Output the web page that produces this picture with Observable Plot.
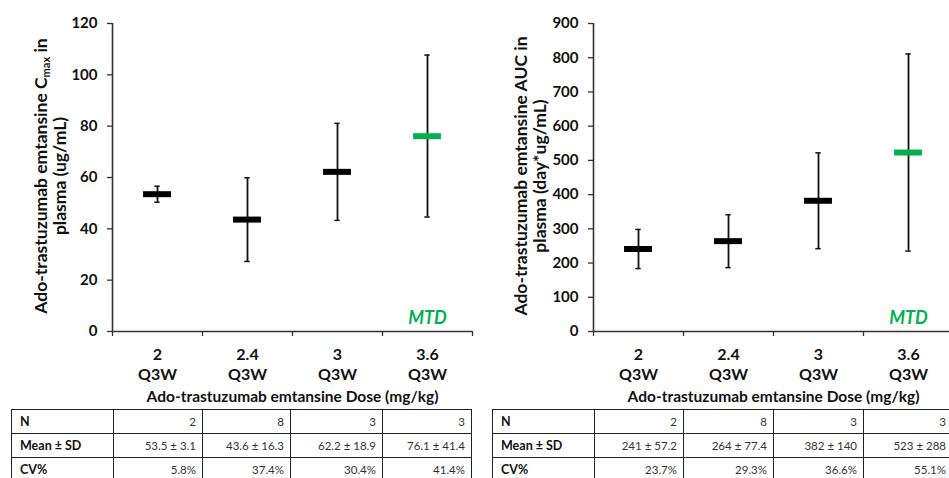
<!DOCTYPE html>
<html>
<head>
<meta charset="utf-8">
<script src="https://cdn.jsdelivr.net/npm/d3@7"></script>
<script src="https://cdn.jsdelivr.net/npm/@observablehq/plot@0.6"></script>
<style>
  html, body { margin: 0; padding: 0; background: #fff; }
  #wrap { position: relative; width: 949px; height: 478px; overflow: hidden; background: #fff; font-family: Lato, "Open Sans", sans-serif; }
  .pnl { position: absolute; top: 0; }
  table.stats { position: absolute; border-collapse: collapse; table-layout: fixed; font-family: Lato, sans-serif; }
  table.stats td { border: 1.5px solid #222; height: 23px; padding: 0 6px; font-size: 11.5px; color: #333; text-align: right; white-space: nowrap; overflow: hidden; }
  table.stats td.lab { text-align: left; font-weight: bold; font-size: 12.5px; color: #111; padding-left: 8px; }
</style>
</head>
<body>
<div id="wrap"></div>
<script>
// ---- data ----
const doses = ["2\nQ3W", "2.4\nQ3W", "3\nQ3W", "3.6\nQ3W"];
const mtdIndex = 3;

const cmaxMean = [53.5, 43.6, 62.2, 76.1];
const cmaxLow  = [50.4, 27.3, 43.3, 44.6];
const cmaxHigh = [56.6, 59.9, 81.1, 107.7];
const cmaxTicks = [0, 20, 40, 60, 80, 100, 120];

const aucMean = [241, 264, 382, 523];
const aucLow  = [183.8, 186.6, 242, 235];
const aucHigh = [298.2, 341.4, 522, 811];
const aucTicks = [0, 100, 200, 300, 400, 500, 600, 700, 800, 900];

const nCounts = ["2", "8", "3", "3"];
const cmaxMeanSD = ["53.5 ± 3.1", "43.6 ± 16.3", "62.2 ± 18.9", "76.1 ± 41.4"];
const cmaxCV = ["5.8%", "37.4%", "30.4%", "41.4%"];
const aucMeanSD = ["241 ± 57.2", "264 ± 77.4", "382 ± 140", "523 ± 288"];
const aucCV = ["23.7%", "29.3%", "36.6%", "55.1%"];

const xTitle = "Ado-trastuzumab emtansine Dose (mg/kg)";
const rowLabels = ["N", "Mean ± SD", "CV%"];

const GREEN = "#00B050";
const INK = "#111";
const AXIS = "#333";

function makePanel({mean, low, high, ticks, titleA, titleSub, titleB, title2, width, marginLeft}) {
  const data = doses.map((d, i) => ({pos: i + 0.5, label: d, mean: mean[i], low: low[i], high: high[i], mtd: i === mtdIndex}));
  const yMax = ticks[ticks.length - 1];
  const svg = Plot.plot({
    width, height: 406,
    marginLeft, marginRight: width - marginLeft - 360, marginTop: 23, marginBottom: 75,
    style: {fontFamily: "Lato, sans-serif", background: "transparent", overflow: "visible"},
    x: {domain: [0, 4], axis: null},
    y: {domain: [0, yMax], axis: null},
    marks: [
      Plot.axisY({ticks, tickSize: 5, tickPadding: 10, fontSize: 15, fontWeight: "bold", color: INK, stroke: AXIS, strokeWidth: 1.3, label: null}),
      Plot.axisX({ticks: [0, 1, 2, 3, 4], tickSize: 5, tickFormat: () => "", stroke: AXIS, strokeWidth: 1.3, label: null}),
      Plot.axisX({ticks: data.map(d => d.pos), tickSize: 0, tickPadding: 14, tickFormat: v => doses[Math.floor(v)], fontSize: 16, fontWeight: "bold", fill: INK, label: null, lineHeight: 1.25}),
      Plot.ruleX([0], {stroke: AXIS, strokeWidth: 1.6}),
      Plot.ruleY([0], {stroke: AXIS, strokeWidth: 1.6}),
      Plot.ruleX(data, {x: "pos", y1: "low", y2: "high", stroke: INK, strokeWidth: 1.8}),
      Plot.ruleY(data, {y: "low", x1: d => d.pos - 0.03, x2: d => d.pos + 0.03, stroke: INK, strokeWidth: 1.5}),
      Plot.ruleY(data, {y: "high", x1: d => d.pos - 0.03, x2: d => d.pos + 0.03, stroke: INK, strokeWidth: 1.5}),
      Plot.ruleY(data, {filter: d => !d.mtd, y: "mean", x1: d => d.pos - 0.155, x2: d => d.pos + 0.155, stroke: "#000", strokeWidth: 6}),
      Plot.ruleY(data, {filter: d => d.mtd, y: "mean", x1: d => d.pos - 0.155, x2: d => d.pos + 0.155, stroke: GREEN, strokeWidth: 6}),
      Plot.text(data.filter(d => d.mtd), {x: "pos", frameAnchor: "bottom", dy: -13, text: () => "MTD", fill: GREEN, fontSize: 18, fontWeight: "bold", fontStyle: "italic", lineAnchor: "middle"}),
      Plot.text([xTitle], {frameAnchor: "bottom", dy: 66, text: d => d, fontSize: 15.5, fontWeight: "bold", fill: INK, lineAnchor: "middle"})
    ]
  });
  // y-axis title (two lines, with subscript)
  const cy = 176;
  const sel = d3.select(svg);
  const t1 = sel.append("text")
    .attr("transform", `translate(47,${cy}) rotate(-90)`)
    .attr("text-anchor", "middle")
    .attr("font-family", "Lato, sans-serif")
    .attr("font-size", 17.5).attr("font-weight", "bold").attr("fill", INK);
  t1.append("tspan").text(titleA);
  if (titleSub) {
    t1.append("tspan").attr("font-size", 11).attr("dy", 3).text(titleSub);
    t1.append("tspan").attr("dy", -3).text(titleB);
  } else {
    t1.append("tspan").text(titleB);
  }
  sel.append("text")
    .attr("transform", `translate(66,${cy}) rotate(-90)`)
    .attr("text-anchor", "middle")
    .attr("font-family", "Lato, sans-serif")
    .attr("font-size", 17.5).attr("font-weight", "bold").attr("fill", INK)
    .text(title2);
  return svg;
}

function makeTable(meanSD, cv, left, widths) {
  const tbl = document.createElement("table");
  tbl.className = "stats";
  tbl.style.left = left + "px";
  tbl.style.top = "409px";
  const total = widths.reduce((a, b) => a + b, 0);
  tbl.style.width = total + "px";
  const cg = document.createElement("colgroup");
  widths.forEach(w => { const c = document.createElement("col"); c.style.width = w + "px"; cg.appendChild(c); });
  tbl.appendChild(cg);
  [nCounts, meanSD, cv].forEach((vals, r) => {
    const tr = document.createElement("tr");
    const th = document.createElement("td"); th.className = "lab"; th.textContent = rowLabels[r]; tr.appendChild(th);
    vals.forEach(v => { const td = document.createElement("td"); td.textContent = v; tr.appendChild(td); });
    tbl.appendChild(tr);
  });
  return tbl;
}

const wrap = document.getElementById("wrap");

const left = makePanel({mean: cmaxMean, low: cmaxLow, high: cmaxHigh, ticks: cmaxTicks,
  titleA: "Ado-trastuzumab emtansine C", titleSub: "max", titleB: " in", title2: "plasma (ug/mL)",
  width: 480, marginLeft: 112});
left.classList.add("pnl"); left.style.left = "0px";
wrap.appendChild(left);

const right = makePanel({mean: aucMean, low: aucLow, high: aucHigh, ticks: aucTicks,
  titleA: "Ado-trastuzumab emtansine AUC in", titleSub: null, titleB: "", title2: "plasma (day*ug/mL)",
  width: 480, marginLeft: 113});
right.classList.add("pnl"); right.style.left = "480px";
wrap.appendChild(right);

wrap.appendChild(makeTable(cmaxMeanSD, cmaxCV, 11, [102, 89, 88, 92, 89]));
wrap.appendChild(makeTable(aucMeanSD, aucCV, 492, [102, 89, 90, 90, 89]));
</script>
</body>
</html>
